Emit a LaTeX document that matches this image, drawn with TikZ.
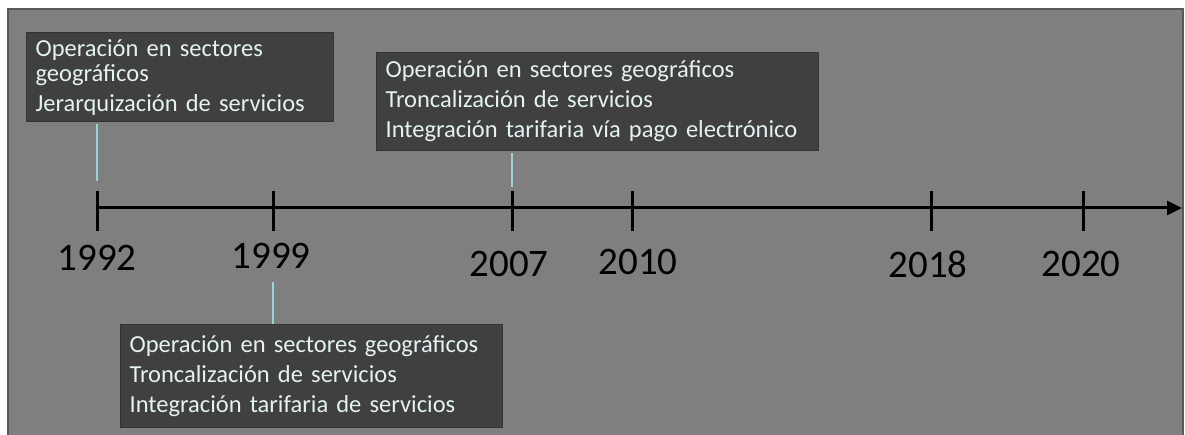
\documentclass[tikz,border=0pt]{standalone}
\usepackage{fontspec}
\setmainfont{Carlito}
\usetikzlibrary{arrows.meta}
\definecolor{fondo}{RGB}{127,127,127}
\definecolor{caja}{RGB}{64,64,64}
\definecolor{texto}{RGB}{228,242,242}
\definecolor{celeste}{RGB}{160,208,212}
\tikzset{
  hito/.style={draw=black!80,line width=1.2pt,fill=caja,text=texto,align=left,
    inner xsep=9pt,inner ysep=0pt,anchor=north west,font=\fontsize{24.5}{25}\selectfont},
  anio/.style={font=\fontsize{39}{40}\selectfont},
  enlace/.style={draw=celeste,line width=2pt}
}
\begin{document}
\begin{tikzpicture}[x=1pt,y=-1pt,>={Triangle[length=15pt,width=14pt]},line width=3pt]
\useasboundingbox (0,0) rectangle (1185,435);
% fondo gris
\draw[fill=fondo,draw=black!65,line width=1.5pt] (8,9) rectangle (1183,445);
% eje con marcas y años
\foreach \t/\a/\lx/\ly in {97/1992/97/258,273/1999/271/256,512/2007/509/264,632/2010/638/262,931/2018/928/264,1083/2020/1081/264}
{
\coordinate (t\a) at (\t,208);
\draw (\t,191)--(\t,231);
\node[anio] (a\a) at (\lx,\ly) {\a};
}
\coordinate (fin) at (1182,208);
\draw[->] (t1992)--(fin);
% cajas
\node[hito,text width=289pt,minimum height=89pt] (h1992) at (26,32)
  {Operación en sectores\\geográficos\\[5pt]Jerarquización de servicios};
\node[hito,text width=424pt,minimum height=98pt] (h2007) at (376,52)
  {Operación en sectores geográficos\\[5pt]Troncalización de servicios\\[5pt]Integración tarifaria vía pago electrónico};
\node[hito,text width=364pt,minimum height=103pt] (h1999) at (120,324)
  {Operación en sectores geográficos\\[5pt]Troncalización de servicios\\[5pt]Integración tarifaria de servicios};
% enlaces
\coordinate (c1992) at (97,181);
\coordinate (c2007) at (512,187);
\coordinate (c1999) at (273,282);
\draw[enlace] ([yshift=-2pt]h1992.south -| t1992)--(c1992);
\draw[enlace] ([yshift=-2pt]h2007.south -| t2007)--(c2007);
\draw[enlace] (c1999)--(h1999.north -| t1999);
\end{tikzpicture}
\end{document}
